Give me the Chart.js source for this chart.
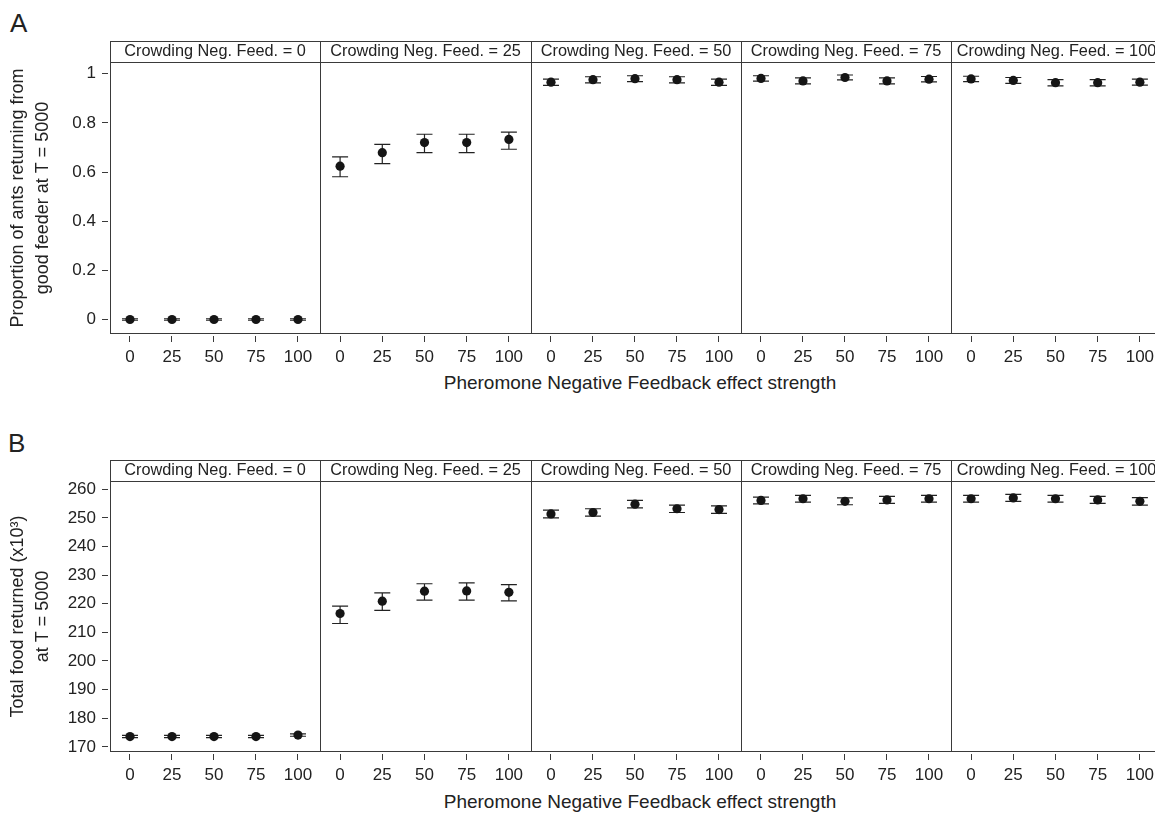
<!DOCTYPE html>
<html>
<head>
<meta charset="utf-8">
<script src="https://cdn.jsdelivr.net/npm/chart.js@4.4.1/dist/chart.umd.min.js"></script>
<style>
  body { margin: 0; background: #fff; width: 1155px; height: 816px; overflow: hidden; position: relative;
         font-family: "Liberation Sans", Arial, sans-serif; color: #222; }
  canvas { position: absolute; }
  .txt { position: absolute; white-space: nowrap; line-height: 1; }
</style>
</head>
<body>
<div class="txt" style="left:10px;top:10px;font-size:26px">A</div>
<div class="txt" style="left:8px;top:430px;font-size:26px">B</div>
<div class="txt" style="left:440px;top:373px;width:400px;text-align:center;font-size:19px">Pheromone Negative Feedback effect strength</div>
<div class="txt" style="left:440px;top:792px;width:400px;text-align:center;font-size:19px">Pheromone Negative Feedback effect strength</div>

<script>
// pheromone negative feedback strength (x axis of each facet)
var xValues = [0, 25, 50, 75, 100];
// crowding negative feedback (one facet each)
var crowding = [0, 25, 50, 75, 100];
var xTicks = [0, 25, 50, 75, 100];

// panel A : proportion of ants returning from good feeder at T = 5000
var propTicks = [0, 0.2, 0.4, 0.6, 0.8, 1];
var propMean = [
  [0, 0, 0, 0, 0],
  [0.624, 0.679, 0.720, 0.720, 0.733],
  [0.966, 0.976, 0.980, 0.976, 0.966],
  [0.981, 0.971, 0.985, 0.971, 0.978],
  [0.979, 0.973, 0.964, 0.964, 0.966]
];
var propLow = [
  [-0.003, -0.003, -0.003, -0.003, -0.003],
  [0.581, 0.634, 0.679, 0.679, 0.693],
  [0.953, 0.963, 0.968, 0.963, 0.953],
  [0.970, 0.959, 0.975, 0.959, 0.967],
  [0.968, 0.961, 0.951, 0.951, 0.954]
];
var propHigh = [
  [0.003, 0.003, 0.003, 0.003, 0.003],
  [0.662, 0.713, 0.754, 0.754, 0.763],
  [0.978, 0.988, 0.992, 0.988, 0.978],
  [0.992, 0.983, 0.995, 0.983, 0.989],
  [0.990, 0.985, 0.976, 0.976, 0.978]
];

// panel B : total food returned (x10^3) at T = 5000
var foodTicks = [170, 180, 190, 200, 210, 220, 230, 240, 250, 260];
var foodMean = [
  [173.6, 173.6, 173.6, 173.6, 174.1],
  [216.6, 220.9, 224.4, 224.5, 224.0],
  [251.4, 251.9, 254.8, 253.2, 252.9],
  [256.1, 256.7, 255.8, 256.3, 256.7],
  [256.7, 257.0, 256.7, 256.3, 255.8]
];
var foodLow = [
  [173.2, 173.2, 173.2, 173.2, 173.7],
  [213.1, 217.7, 221.3, 221.3, 221.0],
  [250.0, 250.6, 253.5, 251.9, 251.6],
  [254.9, 255.5, 254.6, 255.1, 255.5],
  [255.5, 255.8, 255.5, 255.1, 254.5]
];
var foodHigh = [
  [174.0, 174.0, 174.0, 174.0, 174.5],
  [219.2, 223.8, 227.0, 227.3, 226.7],
  [252.7, 253.2, 256.1, 254.5, 254.2],
  [257.3, 257.9, 257.0, 257.5, 257.9],
  [257.9, 258.2, 257.9, 257.5, 257.1]
];

Chart.defaults.font.family = '"Liberation Sans", Arial, sans-serif';
Chart.defaults.color = '#222';

var lineCol = '#3a3a3a';
var facetEdges = [110, 320, 531, 741, 951, 1162];

// frame, strip label and error bars for one facet
function facetPlugin(label, low, high, last) {
  return {
    id: 'facet',
    beforeDatasetsDraw: function(chart) {
      var ctx = chart.ctx, xs = chart.scales.x, ys = chart.scales.y;
      ctx.save();
      ctx.strokeStyle = '#222';
      ctx.lineWidth = 1.2;
      xValues.forEach(function(x, k) {
        var px = xs.getPixelForValue(x);
        var y1 = ys.getPixelForValue(low[k]), y2 = ys.getPixelForValue(high[k]);
        ctx.beginPath();
        ctx.moveTo(px, y1); ctx.lineTo(px, y2);
        ctx.moveTo(px - 8, y1); ctx.lineTo(px + 8, y1);
        ctx.moveTo(px - 8, y2); ctx.lineTo(px + 8, y2);
        ctx.stroke();
      });
      ctx.restore();
    },
    afterDraw: function(chart) {
      var ctx = chart.ctx, a = chart.chartArea;
      var st = a.top - 21;
      ctx.save();
      ctx.strokeStyle = lineCol;
      ctx.lineWidth = 1;
      ctx.beginPath();
      ctx.moveTo(a.left + 0.5, st); ctx.lineTo(a.left + 0.5, a.bottom);
      ctx.moveTo(a.left, st + 0.5); ctx.lineTo(a.right, st + 0.5);
      ctx.moveTo(a.left, a.top + 0.5); ctx.lineTo(a.right, a.top + 0.5);
      ctx.moveTo(a.left, a.bottom - 0.5); ctx.lineTo(a.right, a.bottom - 0.5);
      if (last) { ctx.moveTo(a.right - 0.5, st); ctx.lineTo(a.right - 0.5, a.bottom); }
      ctx.stroke();
      ctx.fillStyle = '#222';
      ctx.font = '16.3px "Liberation Sans", Arial, sans-serif';
      ctx.textAlign = 'center';
      ctx.textBaseline = 'middle';
      ctx.fillText(label, (a.left + a.right) / 2, a.top - 10.5);
      ctx.restore();
    }
  };
}

function makePanel(top, height, yMin, yMax, yTicks, yTitle, mean, low, high) {
  crowding.forEach(function(c, i) {
    var first = i === 0;
    var left = first ? 0 : facetEdges[i];
    var width = facetEdges[i + 1] - left;
    var cv = document.createElement('canvas');
    cv.width = width; cv.height = height;
    cv.style.left = left + 'px'; cv.style.top = top + 'px';
    cv.style.width = width + 'px'; cv.style.height = height + 'px';
    document.body.appendChild(cv);

    new Chart(cv, {
      type: 'scatter',
      data: {
        datasets: [{
          data: xValues.map(function(x, k) { return { x: x, y: mean[i][k] }; }),
          pointRadius: 4.6,
          pointBackgroundColor: '#151515',
          pointBorderWidth: 0,
          showLine: false
        }]
      },
      options: {
        responsive: false,
        animation: false,
        events: [],
        layout: { padding: { top: 24, left: 0, right: 0, bottom: 0 }, autoPadding: false },
        plugins: { legend: { display: false }, tooltip: { enabled: false } },
        scales: {
          x: {
            type: 'linear', min: -11.9, max: 113.1,
            afterBuildTicks: function(s) { s.ticks = xTicks.map(function(v) { return { value: v }; }); },
            afterFit: function(s) { s.height = 36; },
            grid: { drawOnChartArea: false, drawTicks: true, tickLength: 8, color: lineCol },
            border: { display: true, color: '#fff', width: 4 },
            ticks: { font: { size: 17 }, padding: 5, maxRotation: 0, color: '#222' }
          },
          y: {
            display: first,
            min: yMin, max: yMax,
            afterBuildTicks: function(s) { s.ticks = yTicks.map(function(v) { return { value: v }; }); },
            afterFit: function(s) { s.width = first ? 110 : 0; },
            grid: { drawOnChartArea: false, drawTicks: true, tickLength: 8, color: lineCol },
            border: { display: true, color: '#fff', width: 4 },
            ticks: { font: { size: 17 }, padding: 6, color: '#222', callback: function(v) { return String(v); } },
            title: { display: true, text: yTitle, font: { size: 18, lineHeight: 1.42 }, padding: { top: 5, bottom: 0 }, color: '#222' }
          }
        }
      },
      plugins: [facetPlugin('Crowding Neg. Feed. = ' + c, low[i], high[i], i === crowding.length - 1)]
    });
  });
}

makePanel(38, 332, -0.059, 1.048, propTicks,
  ['Proportion of ants returning from', 'good feeder at T = 5000'],
  propMean, propLow, propHigh);
makePanel(457, 331, 168.2, 262.9, foodTicks,
  ['Total food returned (x10\u00B3)', 'at T = 5000'],
  foodMean, foodLow, foodHigh);
</script>
</body>
</html>
